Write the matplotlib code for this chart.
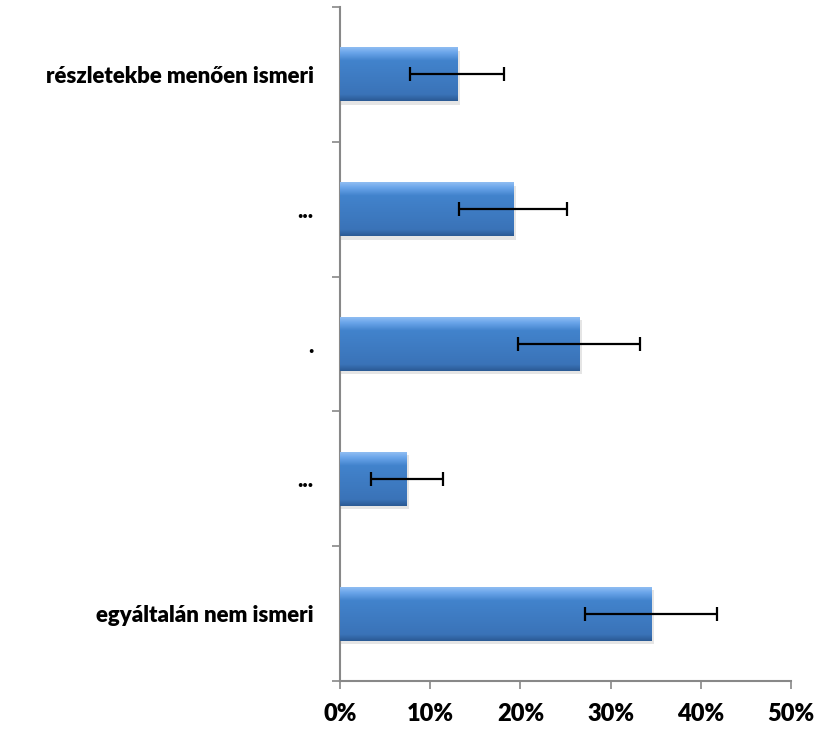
import numpy as np
from matplotlib import pyplot as plt
from matplotlib.colors import LinearSegmentedColormap

# data (bottom to top)
categories = ['egyáltalán nem ismeri', '...', '.', '...', 'részletekbe menően ismeri']
values = [34.5, 7.4, 26.5, 19.2, 13.0]
errors = [7.3, 4.0, 6.8, 6.0, 5.2]
x_ticks = [0, 10, 20, 30, 40, 50]
x_labels = ['0%', '10%', '20%', '30%', '40%', '50%']


def main():
    plt.rcParams['font.family'] = ['Lato', 'DejaVu Sans']

    fig = plt.figure(figsize=(8.34, 7.29), dpi=100)
    ax = fig.add_axes([0.4077, 0.0658, 0.5408, 0.9246])

    y_pos = np.arange(len(categories))
    bar_h = 0.4

    # soft shadow behind bars
    ax.barh(y_pos - 0.025, [v + 0.2 for v in values], height=bar_h, left=0.1,
            color='#000000', alpha=0.10, zorder=1)

    bars = ax.barh(y_pos, values, height=bar_h, color='#3F7CC4', zorder=2)

    # gradient fill to mimic the bevelled bars
    cmap = LinearSegmentedColormap.from_list(
        'bev', [(0.0, '#2B5A94'), (0.12, '#3A73B8'), (0.75, '#4283CC'),
                (0.9, '#6AA5EA'), (1.0, '#8FBDF2')])
    grad = np.linspace(0, 1, 200).reshape(-1, 1)
    for b in bars:
        x0, y0 = b.get_x(), b.get_y()
        w, h = b.get_width(), b.get_height()
        im = ax.imshow(grad, cmap=cmap, aspect='auto', origin='lower',
                       extent=[x0, x0 + w, y0, y0 + h], zorder=3)
        im.set_clip_path(b)

    ax.errorbar(values, y_pos, xerr=errors, fmt='none', ecolor='black',
                elinewidth=1.6, capsize=5, capthick=1.6, zorder=4)

    ax.set_xlim(0, 50)
    ax.set_ylim(-0.5, len(categories) - 0.5)

    ax.set_xticks(x_ticks)
    ax.set_xticklabels(x_labels, fontsize=17, fontweight='heavy')
    ax.set_yticks(y_pos)
    ax.set_yticklabels(categories, fontsize=16, fontweight='heavy')
    ax.set_yticks(np.arange(-0.5, len(categories), 1.0), minor=True)

    ax.tick_params(axis='y', which='major', length=0, pad=19)
    ax.tick_params(axis='y', which='minor', length=6, color='#888888', width=1.2)
    ax.tick_params(axis='x', length=6, color='#888888', width=1.2, pad=10)

    for side in ['top', 'right']:
        ax.spines[side].set_visible(False)
    for side in ['left', 'bottom']:
        ax.spines[side].set_color('#888888')
        ax.spines[side].set_linewidth(1.5)

    fig.savefig('out.png', dpi=100)
    return


if __name__ == "__main__":
    main()
